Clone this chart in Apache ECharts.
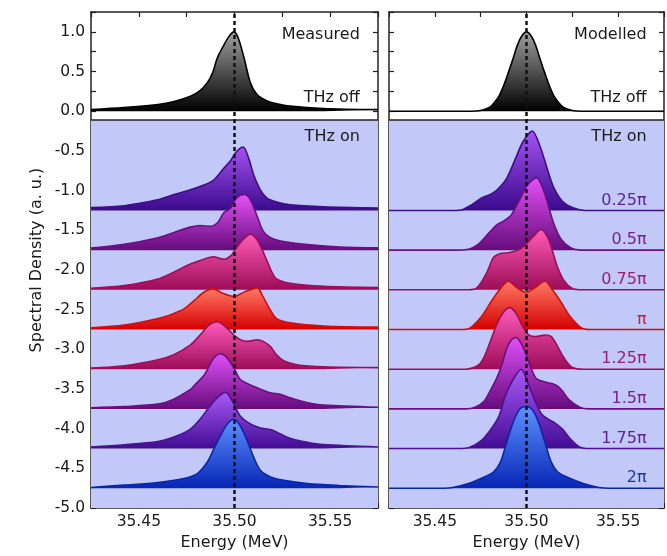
<!DOCTYPE html>
<html><head><meta charset="utf-8">
<script src="https://cdn.jsdelivr.net/npm/echarts@6/dist/echarts.min.js"></script>
<style>html,body{margin:0;padding:0;background:#fff}#c{width:667px;height:556px}</style>
</head><body><div id="c"></div>
<script>
// ---- axis settings ----
const energyMin = 35.425, energyMax = 35.575, energyStep = 0.025;
const densityMin = -5, densityMax = 1.25, densityStep = 0.25;
const separatorLevel = -0.11;
const centreEnergy = 35.50;

// ---- vertical offsets of each trace (THz off, then phases) ----
const baselines = [0, -1.25, -1.75, -2.25, -2.75, -3.25, -3.75, -4.25, -4.75];
const phaseLabels = ['', '0.25π', '0.5π', '0.75π', 'π', '1.25π', '1.5π', '1.75π', '2π'];

// ---- measured spectra: [energy MeV, intensity above baseline] ----
const measOff = [[35.425,0.02],[35.442,0.045],[35.46,0.085],[35.468,0.12],[35.477,0.19],[35.482,0.26],[35.4858,0.36],[35.4885,0.48],[35.491,0.67],[35.4944,0.83],[35.497,0.94],[35.4997,1.0],[35.502,0.92],[35.505,0.67],[35.5083,0.36],[35.5118,0.21],[35.517,0.13],[35.522,0.095],[35.529,0.065],[35.5465,0.035],[35.575,0.02]];
const meas1 = [[35.425,0.035],[35.4424,0.06],[35.4597,0.134],[35.468,0.197],[35.477,0.26],[35.484,0.32],[35.489,0.38],[35.4944,0.53],[35.498,0.63],[35.501,0.74],[35.5045,0.80],[35.5075,0.65],[35.51,0.45],[35.5135,0.26],[35.517,0.155],[35.522,0.105],[35.529,0.07],[35.5465,0.045],[35.575,0.03]];
const meas2 = [[35.425,0.025],[35.4424,0.073],[35.46,0.156],[35.468,0.22],[35.477,0.29],[35.482,0.31],[35.4875,0.30],[35.491,0.34],[35.4944,0.47],[35.498,0.53],[35.501,0.655],[35.5052,0.70],[35.5083,0.634],[35.5118,0.43],[35.515,0.24],[35.5188,0.156],[35.5257,0.107],[35.538,0.07],[35.555,0.04],[35.575,0.03]];
const meas3 = [[35.425,0.02],[35.4424,0.054],[35.46,0.137],[35.468,0.22],[35.477,0.324],[35.484,0.386],[35.489,0.416],[35.4944,0.386],[35.498,0.428],[35.5005,0.51],[35.504,0.62],[35.5083,0.70],[35.5118,0.63],[35.5145,0.50],[35.517,0.366],[35.5196,0.22],[35.522,0.137],[35.529,0.083],[35.5465,0.045],[35.575,0.03]];
const meas4 = [[35.425,0.022],[35.4424,0.055],[35.46,0.138],[35.468,0.20],[35.4736,0.26],[35.479,0.367],[35.484,0.47],[35.4889,0.512],[35.4944,0.45],[35.4997,0.417],[35.505,0.47],[35.5118,0.525],[35.515,0.408],[35.5188,0.242],[35.522,0.138],[35.529,0.085],[35.5465,0.045],[35.575,0.03]];
const meas5 = [[35.425,0.015],[35.4424,0.044],[35.46,0.12],[35.468,0.18],[35.477,0.306],[35.482,0.43],[35.4866,0.555],[35.491,0.597],[35.4953,0.534],[35.4997,0.43],[35.5031,0.37],[35.5066,0.35],[35.5118,0.37],[35.515,0.35],[35.5188,0.285],[35.522,0.18],[35.5257,0.107],[35.5326,0.057],[35.5465,0.03],[35.575,0.02]];
const meas6 = [[35.425,0.015],[35.4424,0.03],[35.46,0.06],[35.468,0.12],[35.477,0.245],[35.4788,0.29],[35.484,0.42],[35.4858,0.494],[35.4892,0.64],[35.4927,0.694],[35.4962,0.64],[35.4997,0.514],[35.503,0.37],[35.5066,0.32],[35.5118,0.265],[35.5188,0.203],[35.524,0.183],[35.529,0.14],[35.5378,0.08],[35.5465,0.047],[35.575,0.02]];
const meas7 = [[35.425,0.02],[35.4424,0.047],[35.46,0.088],[35.468,0.142],[35.477,0.246],[35.482,0.37],[35.4866,0.516],[35.491,0.64],[35.4953,0.71],[35.4988,0.60],[35.503,0.41],[35.5083,0.31],[35.5135,0.26],[35.5188,0.24],[35.524,0.184],[35.529,0.13],[35.538,0.08],[35.5465,0.05],[35.575,0.02]];
const meas8 = [[35.425,0.01],[35.4424,0.04],[35.46,0.073],[35.4736,0.123],[35.4806,0.185],[35.4858,0.33],[35.4892,0.497],[35.4927,0.663],[35.4962,0.81],[35.4997,0.87],[35.503,0.787],[35.5066,0.60],[35.51,0.392],[35.5135,0.226],[35.5188,0.143],[35.5257,0.10],[35.538,0.06],[35.555,0.035],[35.575,0.015]];

// ---- modelled spectra ----
const modOff = [[35.425,0],[35.47,0],[35.475,0.01],[35.48,0.05],[35.4825,0.11],[35.485,0.19],[35.4875,0.32],[35.49,0.48],[35.4925,0.65],[35.495,0.83],[35.4975,0.95],[35.5,1.0],[35.5025,0.95],[35.505,0.83],[35.5075,0.65],[35.51,0.48],[35.5125,0.32],[35.515,0.19],[35.5175,0.11],[35.52,0.05],[35.525,0.01],[35.53,0],[35.575,0]];
const mod1 = [[35.425,0],[35.46,0],[35.465,0.01],[35.47,0.07],[35.4753,0.155],[35.4806,0.205],[35.484,0.26],[35.4892,0.405],[35.4944,0.675],[35.498,0.862],[35.5031,1.0],[35.5075,0.80],[35.5118,0.488],[35.515,0.28],[35.5196,0.114],[35.5257,0.03],[35.532,0],[35.575,0]];
const mod2 = [[35.425,0],[35.463,0],[35.4684,0.01],[35.4736,0.073],[35.4788,0.198],[35.484,0.322],[35.4875,0.365],[35.4918,0.447],[35.4962,0.634],[35.5005,0.82],[35.5054,0.914],[35.51,0.705],[35.5144,0.365],[35.5188,0.14],[35.524,0.03],[35.53,0],[35.575,0]];
const mod3 = [[35.425,0],[35.467,0],[35.4719,0.01],[35.4753,0.095],[35.4788,0.24],[35.482,0.407],[35.4858,0.457],[35.491,0.47],[35.4962,0.51],[35.4997,0.573],[35.504,0.68],[35.508,0.76],[35.5118,0.65],[35.5144,0.47],[35.517,0.282],[35.5205,0.116],[35.5248,0.02],[35.53,0],[35.575,0]];
const mod4 = [[35.425,0],[35.464,0],[35.4684,0.01],[35.4753,0.159],[35.4806,0.346],[35.485,0.49],[35.4901,0.608],[35.4944,0.533],[35.4997,0.47],[35.505,0.533],[35.51,0.608],[35.5144,0.49],[35.5188,0.346],[35.524,0.159],[35.531,0.01],[35.536,0],[35.575,0]];
const mod5 = [[35.425,0],[35.4667,0],[35.4736,0.05],[35.477,0.16],[35.4806,0.37],[35.484,0.576],[35.4875,0.72],[35.491,0.776],[35.4944,0.70],[35.498,0.534],[35.5014,0.43],[35.505,0.41],[35.51,0.43],[35.5135,0.41],[35.517,0.285],[35.5205,0.14],[35.5248,0.025],[35.531,0],[35.575,0]];
const mod6 = [[35.425,0],[35.467,0],[35.4719,0.02],[35.477,0.10],[35.4806,0.245],[35.484,0.40],[35.4866,0.56],[35.4892,0.76],[35.4918,0.87],[35.4944,0.90],[35.498,0.785],[35.5014,0.58],[35.505,0.39],[35.5083,0.35],[35.5118,0.33],[35.515,0.31],[35.517,0.286],[35.5196,0.224],[35.523,0.12],[35.529,0.02],[35.534,0],[35.575,0]];
const mod7 = [[35.425,0],[35.463,0],[35.4684,0.01],[35.4753,0.10],[35.4806,0.245],[35.485,0.41],[35.4884,0.66],[35.4918,0.83],[35.497,1.0],[35.5014,0.786],[35.505,0.58],[35.5083,0.433],[35.5118,0.37],[35.515,0.33],[35.5196,0.245],[35.524,0.12],[35.529,0.02],[35.535,0],[35.575,0]];
const mod8 = [[35.425,0],[35.455,0],[35.4597,0.01],[35.4684,0.06],[35.477,0.143],[35.482,0.205],[35.4858,0.33],[35.4892,0.58],[35.4927,0.83],[35.4962,0.995],[35.4997,1.03],[35.503,0.995],[35.5066,0.83],[35.51,0.58],[35.5135,0.33],[35.517,0.205],[35.522,0.143],[35.531,0.06],[35.5396,0.01],[35.545,0],[35.575,0]];

const measuredSet = [measOff, meas1, meas2, meas3, meas4, meas5, meas6, meas7, meas8];
const modelledSet = [modOff, mod1, mod2, mod3, mod4, mod5, mod6, mod7, mod8];

// ---- colours ----
const palette = [
  {line:'#000000', top:'#a0a0a0', bottom:'#000000', text:'#222222'},
  {line:'#3d0f86', top:'#a552f2', bottom:'#3a0a8c', text:'#5b2399'},
  {line:'#6a0f82', top:'#e452f6', bottom:'#650c7c', text:'#7a1f8f'},
  {line:'#9a0f5a', top:'#ff5cb4', bottom:'#9c0c58', text:'#9a1e6a'},
  {line:'#cc1010', top:'#ff7a66', bottom:'#d40000', text:'#b8283c'},
  {line:'#9a0f5a', top:'#ff5cba', bottom:'#9c0c58', text:'#9a1e6a'},
  {line:'#6a0f82', top:'#e050f8', bottom:'#650c7c', text:'#7a1f8f'},
  {line:'#4a1290', top:'#a85af6', bottom:'#420c94', text:'#5b2399'},
  {line:'#0a26a8', top:'#5f90ff', bottom:'#0626b4', text:'#1f35a5'}
];
const bgBlue = '#c2c8f8';
const FONT = 'DejaVu Sans';

const chart = echarts.init(document.getElementById('c'), null, {renderer:'canvas'});

const grids = [
  {left:91, top:12, width:287, height:501},
  {left:389, top:12, width:288, height:501}
];

function xFmt(v){ const r = Math.round(v*1000); return r % 50 === 0 ? (r/1000).toFixed(2) : ''; }
function yFmt(v){ const r = Math.round(v*4); return r % 2 === 0 ? (r/4).toFixed(1) : ''; }

const xAxes = [], yAxes = [];
[0,1].forEach(g => {
  xAxes.push({type:'value', gridIndex:g, position:'bottom', min:energyMin, max:energyMax, interval:energyStep,
    name:'Energy (MeV)', nameLocation:'middle', nameGap:25,
    nameTextStyle:{fontFamily:FONT, fontSize:16, color:'#1a1a1a'},
    axisLine:{show:true, onZero:false, lineStyle:{color:'#222', width:1.5}},
    axisTick:{show:true, inside:true, length:5, lineStyle:{color:'#222', width:1.2}},
    axisLabel:{show:true, formatter:xFmt, margin:6, fontFamily:FONT, fontSize:15.5, color:'#1a1a1a'},
    splitLine:{show:false}});
  xAxes.push({type:'value', gridIndex:g, position:'top', min:energyMin, max:energyMax, interval:energyStep,
    axisLine:{show:true, onZero:false, lineStyle:{color:'#222', width:1.5}},
    axisTick:{show:true, inside:true, length:5, lineStyle:{color:'#222', width:1.2}},
    axisLabel:{show:false}, splitLine:{show:false}});
  yAxes.push({type:'value', gridIndex:g, position:'left', min:densityMin, max:densityMax, interval:densityStep,
    name: g===0 ? 'Spectral Density (a. u.)' : '', nameLocation:'middle', nameGap:46,
    nameTextStyle:{fontFamily:FONT, fontSize:16, color:'#1a1a1a'},
    axisLine:{show:true, onZero:false, lineStyle:{color:'#222', width:1.5}},
    axisTick:{show:true, inside:true, length:5, lineStyle:{color:'#222', width:1.2}},
    axisLabel:{show:g===0, formatter:yFmt, margin:6, fontFamily:FONT, fontSize:15.5, color:'#1a1a1a'},
    splitLine:{show:false}});
  yAxes.push({type:'value', gridIndex:g, position:'right', min:densityMin, max:densityMax, interval:densityStep,
    axisLine:{show:true, onZero:false, lineStyle:{color:'#222', width:1.5}},
    axisTick:{show:true, inside:true, length:5, lineStyle:{color:'#222', width:1.2}},
    axisLabel:{show:false}, splitLine:{show:false}});
});

const series = [];
[0,1].forEach(g => {
  const ax = g*2;
  // background (blue THz-on region + separator)
  series.push({type:'line', xAxisIndex:ax, yAxisIndex:ax, data:[], z:1, silent:true, animation:false,
    markArea:{silent:true, itemStyle:{color:bgBlue, opacity:1}, data:[[{yAxis:densityMin},{yAxis:separatorLevel}]]},
    markLine:{silent:true, symbol:'none', label:{show:false}, lineStyle:{color:'#222', type:'solid', width:1.5}, data:[{yAxis:separatorLevel}]}
  });
  const set = g===0 ? measuredSet : modelledSet;
  set.forEach((curve, i) => {
    const base = baselines[i], pal = palette[i];
    series.push({type:'line', xAxisIndex:ax, yAxisIndex:ax, z:3, silent:true, animation:false,
      data: curve.map(p => [p[0], base + p[1]]),
      symbol:'none', smooth:0.3,
      lineStyle:{color:pal.line, width:1.6},
      areaStyle:{origin:base, opacity:1, color:new echarts.graphic.LinearGradient(0,0,0,1,[{offset:0,color:pal.top},{offset:1,color:pal.bottom}])}
    });
  });
  // text labels
  const labelX = 35.5655;
  const texts = [
    {t: g===0 ? 'Measured' : 'Modelled', y:0.966, c:'#1a1a1a'},
    {t:'THz off', y:0.165, c:'#1a1a1a'},
    {t:'THz on', y:-0.32, c:'#1a1a1a'}
  ];
  if (g===1) {
    for (let i=1;i<baselines.length;i++) texts.push({t:phaseLabels[i], y:baselines[i]+0.125, c:palette[i].text});
  }
  series.push({type:'scatter', xAxisIndex:ax, yAxisIndex:ax, z:10, silent:true, animation:false,
    symbolSize:0, itemStyle:{opacity:1},
    data: texts.map(o => ({value:[labelX, o.y], label:{show:true, formatter:o.t, color:o.c}})),
    label:{show:true, position:'left', distance:0, fontFamily:FONT, fontSize:16, opacity:1},
    markLine:{silent:true, symbol:'none', label:{show:false}, z:10,
      lineStyle:{color:'#111', type:[4,3], width:2.5}, data:[{xAxis:centreEnergy}]}
  });
});

chart.setOption({
  animation:false,
  backgroundColor:'#ffffff',
  grid: grids,
  xAxis: xAxes,
  yAxis: yAxes,
  series: series
});
</script></body></html>
